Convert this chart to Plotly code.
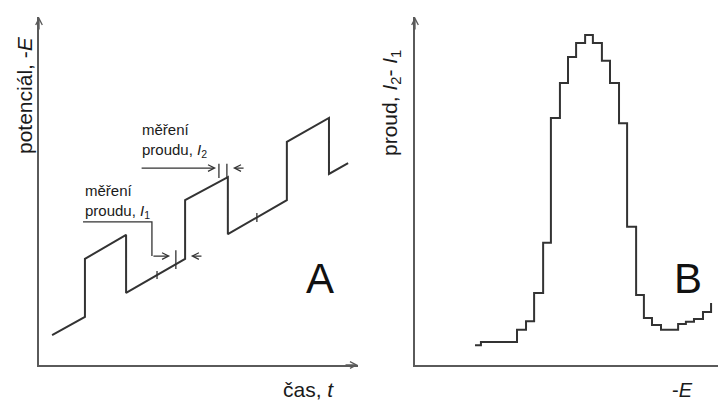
import plotly.graph_objects as go

# ---------------- Panel A: potential vs. time (pulse waveform) ----------------
t_A = [0.41, 1.44, 1.44, 2.73, 2.73, 4.58, 4.58, 5.92, 5.92, 7.77, 7.77, 9.09, 9.09, 9.69]
E_A = [0.86, 1.38, 3.05, 3.74, 2.07, 3.05, 4.74, 5.40, 3.76, 4.74, 6.41, 7.10, 5.49, 5.80]

# short measurement marks on the waveform: time, lower and upper potential
mark_t = [3.70, 4.29, 5.64, 5.89, 6.83]
mark_lo = [2.47, 2.76, 5.37, 5.37, 4.11]
mark_hi = [2.70, 3.30, 5.78, 5.78, 4.37]

# callout leader for I1 (polyline)
lead1_t = [1.38, 3.54, 3.54]
lead1_E = [4.11, 4.11, 3.13]

# ---------------- Panel B: differential current vs. potential ----------------
E_B = [1.93, 2.12, 3.28, 3.57, 3.83, 4.12, 4.37, 4.66, 4.92, 5.18, 5.47, 5.72, 6.01,
       6.27, 6.56, 6.82, 7.11, 7.36, 7.62, 7.91, 8.46, 8.71, 8.97, 9.26, 9.52]
I_B = [0.57, 0.66, 1.01, 1.26, 2.07, 3.51, 7.10, 8.10, 8.85, 9.25, 9.48, 9.25, 8.74,
       8.10, 6.95, 3.97, 2.01, 1.35, 1.15, 1.01, 1.18, 1.24, 1.32, 1.52, 1.78]

W, H = 726, 400
OFF = 8  # default page margin of the HTML body
FONT = "Liberation Sans, Arial, sans-serif"
LINE = "#333333"
AXC = "#5a5a5a"
TXT = "#1a1a1a"


def px(x):
    return (x - OFF) / W


def py(y):
    return 1 - (y - OFF) / H


fig = go.Figure()

fig.add_trace(go.Scatter(x=t_A, y=E_A, mode="lines", xaxis="x", yaxis="y",
                         line=dict(color=LINE, width=2), hoverinfo="skip"))
for t, lo, hi in zip(mark_t, mark_lo, mark_hi):
    fig.add_trace(go.Scatter(x=[t, t], y=[lo, hi], mode="lines", xaxis="x", yaxis="y",
                             line=dict(color=LINE, width=1.3), hoverinfo="skip"))
fig.add_trace(go.Scatter(x=lead1_t, y=lead1_E, mode="lines", xaxis="x", yaxis="y",
                         line=dict(color=LINE, width=1.3), hoverinfo="skip"))

fig.add_trace(go.Scatter(x=E_B, y=I_B, mode="lines", line_shape="hv", xaxis="x2", yaxis="y2",
                         line=dict(color=LINE, width=2), hoverinfo="skip"))

ax_common = dict(showgrid=False, zeroline=False, showticklabels=False, ticks="",
                 showline=True, linecolor=AXC, linewidth=1.5, range=[0, 10], fixedrange=True)

fig.update_layout(
    width=W, height=H, autosize=False,
    margin=dict(l=0, r=0, t=0, b=0),
    paper_bgcolor="white", plot_bgcolor="white",
    showlegend=False,
    xaxis=dict(domain=[px(39), px(358)], anchor="y", **ax_common),
    yaxis=dict(domain=[py(365), py(17)], anchor="x", **ax_common),
    xaxis2=dict(domain=[px(415), px(726)], anchor="y2", **ax_common),
    yaxis2=dict(domain=[py(365), py(17)], anchor="x2", **ax_common),
)

ann = []
# axis arrowheads
ann.append(dict(x=0, y=10, xref="x", yref="y", ax=0, ay=14, showarrow=True,
                arrowhead=5, arrowsize=1, arrowwidth=1.3, arrowcolor=AXC, text=""))
ann.append(dict(x=10, y=0, xref="x", yref="y", ax=-14, ay=0, showarrow=True,
                arrowhead=5, arrowsize=1, arrowwidth=1.3, arrowcolor=AXC, text=""))
ann.append(dict(x=0, y=10, xref="x2", yref="y2", ax=0, ay=14, showarrow=True,
                arrowhead=5, arrowsize=1, arrowwidth=1.3, arrowcolor=AXC, text=""))

# callout arrows (data coordinates)
for (hx, hy, tx, ty) in [(4.11, 3.13, 3.54, 3.13), (4.76, 3.13, 5.14, 3.13),
                         (5.55, 5.66, 3.17, 5.66), (6.08, 5.66, 6.46, 5.66)]:
    ann.append(dict(x=hx, y=hy, ax=tx, ay=ty, xref="x", yref="y", axref="x", ayref="y",
                    showarrow=True, arrowhead=5, arrowsize=1, arrowwidth=1.3,
                    arrowcolor=LINE, text=""))

# callout texts
ann.append(dict(x=1.38, y=4.71, xref="x", yref="y", xanchor="left", yanchor="middle",
                align="left", showarrow=False,
                text="měření<br>proudu, <i>I</i><sub>1</sub>",
                font=dict(family=FONT, size=15, color=TXT)))
ann.append(dict(x=3.17, y=6.44, xref="x", yref="y", xanchor="left", yanchor="middle",
                align="left", showarrow=False,
                text="měření<br>proudu, <i>I</i><sub>2</sub>",
                font=dict(family=FONT, size=15, color=TXT)))

C = dict(xref="paper", yref="paper", showarrow=False, xanchor="center", yanchor="middle")
# axis titles
ann.append(dict(x=px(24), y=py(95), textangle=-90, text="potenciál, -<i>E</i>",
                font=dict(family=FONT, size=21, color=TXT), **C))
ann.append(dict(x=px(308), y=py(389), text="čas, <i>t</i>",
                font=dict(family=FONT, size=21, color=TXT), **C))
ann.append(dict(x=px(391), y=py(103), textangle=-90,
                text="proud, <i>I</i><sub>2</sub>- <i>I</i><sub>1</sub>",
                font=dict(family=FONT, size=21, color=TXT), **C))
ann.append(dict(x=px(682), y=py(390), text="-<i>E</i>",
                font=dict(family=FONT, size=20, color=TXT), **C))

# panel letters
ann.append(dict(x=px(320), y=py(278), text="A",
                font=dict(family=FONT, size=42, color="#111111"), **C))
ann.append(dict(x=px(688), y=py(278), text="B",
                font=dict(family=FONT, size=42, color="#111111"), **C))

fig.update_layout(annotations=ann)
fig.write_html("out.html")
